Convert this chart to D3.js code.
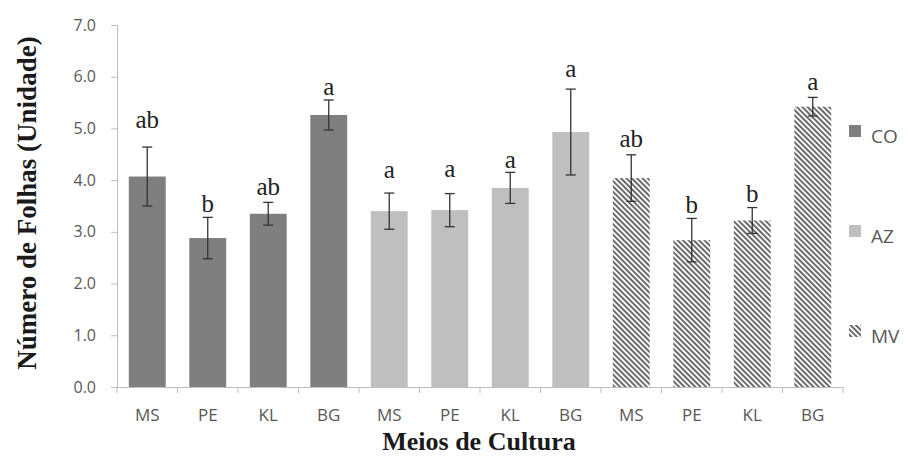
<!DOCTYPE html>
<html>
<head>
<meta charset="utf-8">
<script src="https://cdn.jsdelivr.net/npm/d3@7"></script>
<style>
  body { margin: 0; background: #fff; }
  svg { display: block; }
</style>
</head>
<body>
<svg id="chart" width="908" height="459"></svg>
<script>
// data
const groups = ['CO', 'AZ', 'MV'];
const media = ['MS', 'PE', 'KL', 'BG'];
const means = [4.07, 2.88, 3.35, 5.26, 3.40, 3.42, 3.85, 4.93, 4.04, 2.84, 3.22, 5.42];
const errors = [0.57, 0.40, 0.22, 0.29, 0.35, 0.32, 0.30, 0.83, 0.45, 0.42, 0.25, 0.18];
const letters = ['ab', 'b', 'ab', 'a', 'a', 'a', 'a', 'a', 'ab', 'b', 'b', 'a'];
const letterY = [5.01, 3.38, 3.71, 5.65, 4.04, 4.06, 4.24, 6.00, 4.64, 3.37, 3.58, 5.74];
const yTicks = [0, 1, 2, 3, 4, 5, 6, 7];

const svg = d3.select('#chart');
const margin = {top: 25, left: 117, right: 65, bottom: 72};
const w = 908 - margin.left - margin.right;
const h = 459 - margin.top - margin.bottom;

const defs = svg.append('defs');
defs.append('pattern')
  .attr('id', 'hatch')
  .attr('patternUnits', 'userSpaceOnUse')
  .attr('width', 3.8).attr('height', 3.8)
  .attr('patternTransform', 'rotate(-45)')
  .append('rect')
  .attr('width', 2).attr('height', 3.8)
  .attr('fill', '#6a6a6a');

const fills = {CO: '#7f7f7f', AZ: '#bfbfbf', MV: 'url(#hatch)'};

const bars = [];
groups.forEach((g, gi) => media.forEach((m, mi) => {
  const i = gi * media.length + mi;
  bars.push({key: i, group: g, medium: m, v: means[i], e: errors[i], letter: letters[i], ly: letterY[i]});
}));

const x = d3.scaleBand().domain(bars.map(d => d.key)).range([0, w]).paddingInner(0.39).paddingOuter(0.195);
const y = d3.scaleLinear().domain([0, 7]).range([h, 0]);

const g = svg.append('g').attr('transform', `translate(${margin.left},${margin.top})`);

// bars
g.selectAll('.bar').data(bars).enter().append('rect')
  .attr('class', 'bar')
  .attr('x', d => x(d.key))
  .attr('width', x.bandwidth())
  .attr('y', d => y(d.v))
  .attr('height', d => y(0) - y(d.v))
  .attr('fill', d => fills[d.group]);

// error bars
const eb = g.selectAll('.err').data(bars).enter().append('g').attr('class', 'err')
  .attr('stroke', '#333').attr('stroke-width', 1.3);
const cx = d => x(d.key) + x.bandwidth() / 2;
eb.append('line').attr('x1', cx).attr('x2', cx).attr('y1', d => y(d.v + d.e)).attr('y2', d => y(d.v - d.e));
eb.append('line').attr('x1', d => cx(d) - 5).attr('x2', d => cx(d) + 5).attr('y1', d => y(d.v + d.e)).attr('y2', d => y(d.v + d.e));
eb.append('line').attr('x1', d => cx(d) - 5).attr('x2', d => cx(d) + 5).attr('y1', d => y(d.v - d.e)).attr('y2', d => y(d.v - d.e));

// significance letters
g.selectAll('.letter').data(bars).enter().append('text')
  .attr('x', cx)
  .attr('y', d => y(d.ly))
  .attr('text-anchor', 'middle')
  .attr('font-family', 'Liberation Serif, Times New Roman, serif')
  .attr('font-size', 25)
  .attr('fill', '#222')
  .text(d => d.letter);

// y axis
const yAxis = g.append('g').call(d3.axisLeft(y).tickValues(yTicks).tickFormat(d3.format('.1f')).tickSize(6).tickSizeOuter(6));
yAxis.select('.domain').attr('stroke', '#bdbdbd');
yAxis.selectAll('.tick line').attr('stroke', '#bdbdbd');
yAxis.selectAll('.tick text')
  .attr('x', -21)
  .attr('font-family', 'Open Sans, Liberation Sans, sans-serif')
  .attr('font-size', 16).attr('fill', '#595959');

// x axis
const xAxis = g.append('g').attr('transform', `translate(0,${h})`)
  .call(d3.axisBottom(x).tickFormat(k => bars[k].medium).tickSize(0).tickPadding(22));
xAxis.select('.domain').attr('stroke', '#bdbdbd');
xAxis.selectAll('.tick text')
  .attr('font-family', 'Open Sans, Liberation Sans, sans-serif')
  .attr('font-size', 17).attr('fill', '#595959');
const step = x.step();
xAxis.selectAll('.sep').data(d3.range(bars.length + 1)).enter().append('line')
  .attr('x1', i => i * step).attr('x2', i => i * step)
  .attr('y1', 0).attr('y2', 6)
  .attr('stroke', '#bdbdbd');

// axis titles
svg.append('text')
  .attr('transform', `translate(36,${203}) rotate(-90)`)
  .attr('text-anchor', 'middle')
  .attr('font-family', 'Liberation Serif, Times New Roman, serif')
  .attr('font-weight', 'bold').attr('font-size', 27).attr('fill', '#1a1a1a')
  .text('Número de Folhas (Unidade)');

svg.append('text')
  .attr('x', 479)
  .attr('y', 450)
  .attr('text-anchor', 'middle')
  .attr('font-family', 'Liberation Serif, Times New Roman, serif')
  .attr('font-weight', 'bold').attr('font-size', 26).attr('fill', '#1a1a1a')
  .text('Meios de Cultura');

// legend
const legend = svg.append('g').attr('transform', 'translate(849,125)');
const item = legend.selectAll('.item').data(groups).enter().append('g')
  .attr('transform', (d, i) => `translate(0,${i * 100})`);
item.append('rect').attr('width', 12).attr('height', 12).attr('fill', d => fills[d]);
item.append('text')
  .attr('x', 22).attr('y', 18)
  .attr('font-family', 'Open Sans, Liberation Sans, sans-serif')
  .attr('font-size', 19).attr('fill', '#595959')
  .text(d => d);
</script>
</body>
</html>
